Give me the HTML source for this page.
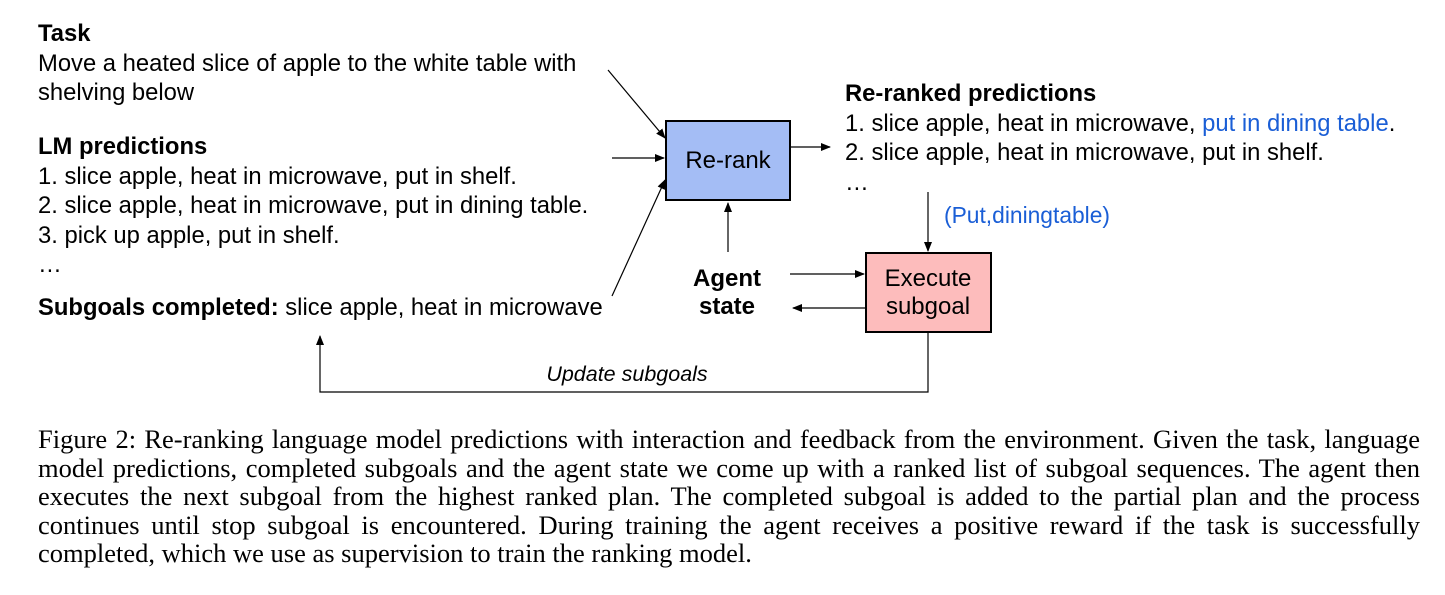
<!DOCTYPE html>
<html><head><style>
body{margin:0;width:1445px;height:595px;background:#fff;overflow:hidden;position:relative}
.d{position:absolute;font-family:"Liberation Sans",Arial,sans-serif;font-size:23.8px;color:#000;white-space:nowrap;line-height:29.5px}
.cap{position:absolute;left:38px;top:425px;width:1382px;font-family:"Liberation Serif",serif;font-size:26.5px;line-height:28.6px;color:#000}
.cap div{text-align:justify;text-align-last:justify;white-space:nowrap;height:28.6px}
.cap div.l{text-align-last:left}
b{font-weight:bold}
.bl{color:#1a5ed6}
</style></head><body>
<svg width="1445" height="420" style="position:absolute;left:0;top:0">
<defs><marker id="a" markerWidth="10" markerHeight="8" refX="9" refY="4" orient="auto" markerUnits="userSpaceOnUse"><path d="M0,0L10,4L0,8z" fill="#000"/></marker></defs>
<rect x="666" y="121" width="124" height="79" fill="#a4bdf5" stroke="#000" stroke-width="2"/>
<rect x="866" y="253" width="125" height="79" fill="#fdbcbc" stroke="#000" stroke-width="2"/>
<g stroke="#000" stroke-width="1.2" fill="none" marker-end="url(#a)">
<line x1="608" y1="70" x2="665" y2="138"/>
<line x1="612" y1="158" x2="664" y2="158"/>
<line x1="612" y1="296" x2="665" y2="180"/>
<line x1="728" y1="252" x2="728" y2="203"/>
<line x1="791" y1="147" x2="830" y2="147"/>
<line x1="928" y1="192" x2="928" y2="251"/>
<line x1="790" y1="274" x2="864" y2="274"/>
<line x1="866" y1="308" x2="793" y2="308"/>
<polyline points="928,332 928,392 320,392 320,336"/>
</g>
<text x="728" y="168" font-family="Liberation Sans,Arial,sans-serif" font-size="24" text-anchor="middle">Re-rank</text>
<text x="928" y="286" font-family="Liberation Sans,Arial,sans-serif" font-size="24" text-anchor="middle">Execute</text>
<text x="928" y="314" font-family="Liberation Sans,Arial,sans-serif" font-size="24" text-anchor="middle">subgoal</text>
<text x="727" y="286" font-family="Liberation Sans,Arial,sans-serif" font-size="24" font-weight="bold" text-anchor="middle">Agent</text>
<text x="727" y="314" font-family="Liberation Sans,Arial,sans-serif" font-size="24" font-weight="bold" text-anchor="middle">state</text>
<text x="627" y="381" font-family="Liberation Sans,Arial,sans-serif" font-size="21.5" font-style="italic" text-anchor="middle">Update subgoals</text>
<text x="944" y="223" font-family="Liberation Sans,Arial,sans-serif" font-size="22.8" fill="#1a5ed6">(Put,diningtable)</text>
</svg>
<div class="d" style="left:38px;top:19px"><b>Task</b><br>Move a heated slice of apple to the white table with<br>shelving below</div>
<div class="d" style="left:38px;top:132px"><b>LM predictions</b><br>1. slice apple, heat in microwave, put in shelf.<br>2. slice apple, heat in microwave, put in dining table.<br>3. pick up apple, put in shelf.<br>…</div>
<div class="d" style="left:38px;top:293px"><b>Subgoals completed:</b> slice apple, heat in microwave</div>
<div class="d" style="left:845px;top:79px"><b>Re-ranked predictions</b><br>1. slice apple, heat in microwave, <span class="bl">put in dining table</span>.<br>2. slice apple, heat in microwave, put in shelf.<br>…</div>
<div class="cap">
<div>Figure 2: Re-ranking language model predictions with interaction and feedback from the environment. Given the task, language</div>
<div>model predictions, completed subgoals and the agent state we come up with a ranked list of subgoal sequences. The agent then</div>
<div>executes the next subgoal from the highest ranked plan. The completed subgoal is added to the partial plan and the process</div>
<div>continues until stop subgoal is encountered. During training the agent receives a positive reward if the task is successfully</div>
<div class="l">completed, which we use as supervision to train the ranking model.</div>
</div>
</body></html>
